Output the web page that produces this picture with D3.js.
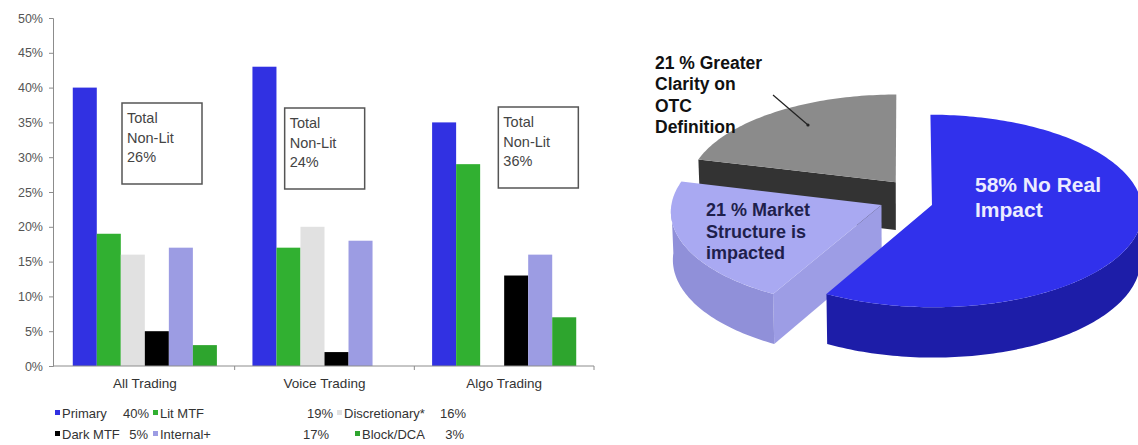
<!DOCTYPE html>
<html>
<head>
<meta charset="utf-8">
<script src="https://cdn.jsdelivr.net/npm/d3@7"></script>
<style>
  html, body { margin: 0; padding: 0; background: #fff; }
  svg { display: block; font-family: "Liberation Sans", Arial, sans-serif; }
</style>
</head>
<body>
<svg id="chart" width="1138" height="445"></svg>
<script>
// ---- data ----
const categories = ["All Trading", "Voice Trading", "Algo Trading"];
const seriesNames = ["Primary", "Lit MTF", "Discretionary*", "Dark MTF", "Internal+", "Block/DCA"];
const primary       = [40, 43, 35];
const litMTF        = [19, 17, 29];
const discretionary = [16, 20, 0];
const darkMTF       = [5, 2, 13];
const internalPlus  = [17, 18, 16];
const blockDCA      = [3, 0, 7];
const yTicks = [0, 5, 10, 15, 20, 25, 30, 35, 40, 45, 50];
const nonLitTotals = [26, 24, 36];

const pieValues = [58, 21, 21];
const pieLabels = [
  ["58% No Real", "Impact"],
  ["21 % Market", "Structure is", "impacted"],
  ["21 % Greater", "Clarity on", "OTC", "Definition"]
];

// ---- styling / layout ----
const seriesValues = [primary, litMTF, discretionary, darkMTF, internalPlus, blockDCA];
const seriesColors = ["#3131e2", "#31b031", "#e1e1e1", "#000000", "#9c9ce3", "#2ea52e"];

const svg = d3.select("#chart");
svg.append("rect").attr("width", 1138).attr("height", 445).attr("fill", "#fff");

const plot = { left: 53, right: 594, top: 18, bottom: 366 };

const x0 = d3.scaleBand().domain(categories).range([plot.left + 2, plot.right]).padding(0);
const x1 = d3.scaleBand().domain(seriesNames).range([0, x0.bandwidth()])
  .paddingInner(0).paddingOuter(0.74);
const y = d3.scaleLinear().domain([0, 50]).range([plot.bottom, plot.top]);

// bars
const barG = svg.append("g");
categories.forEach((cat, ci) => {
  const g = barG.append("g").attr("transform", `translate(${x0(cat)},0)`);
  g.selectAll("rect")
    .data(seriesNames.map((s, si) => ({ s, v: seriesValues[si][ci], c: seriesColors[si] })))
    .join("rect")
    .attr("x", d => x1(d.s))
    .attr("y", d => y(d.v))
    .attr("width", x1.bandwidth())
    .attr("height", d => y(0) - y(d.v))
    .attr("fill", d => d.c);
});

// y axis
const yAxis = d3.axisLeft(y).tickValues(yTicks).tickSize(4).tickPadding(6)
  .tickFormat(d => d + "%");
const yg = svg.append("g").attr("transform", `translate(${plot.left},0)`).call(yAxis);
yg.select(".domain").attr("stroke", "#8c8c8c");
yg.selectAll(".tick line").attr("stroke", "#8c8c8c");
yg.selectAll(".tick text").attr("fill", "#555").style("font-size", "12.5px")
  .style("font-family", '"Liberation Sans", Arial, sans-serif');

// x axis baseline with ticks at category boundaries
const xg = svg.append("g");
xg.append("line").attr("x1", plot.left).attr("x2", plot.right)
  .attr("y1", y(0)).attr("y2", y(0)).attr("stroke", "#8c8c8c");
xg.selectAll("line.tk").data(categories).join("line").attr("class", "tk")
  .attr("x1", d => x0(d) + x0.bandwidth()).attr("x2", d => x0(d) + x0.bandwidth())
  .attr("y1", y(0)).attr("y2", y(0) + 4).attr("stroke", "#8c8c8c");
xg.selectAll("text").data(categories).join("text")
  .attr("x", d => x0(d) + x0.bandwidth() / 2)
  .attr("y", y(0) + 22)
  .attr("text-anchor", "middle")
  .attr("fill", "#333")
  .style("font-size", "13.5px")
  .text(d => d);

// "Total Non-Lit" annotation boxes
const boxLayout = [{ dx: 67, y: 103 }, { dx: 50, y: 108 }, { dx: 84, y: 107 }];
const boxW = 80, boxH = 81;
categories.forEach((cat, i) => {
  const bx = x0(cat) + boxLayout[i].dx, by = boxLayout[i].y;
  const g = svg.append("g");
  g.append("rect").attr("x", bx).attr("y", by).attr("width", boxW).attr("height", boxH)
    .attr("fill", "#fff").attr("stroke", "#555").attr("stroke-width", 1.5);
  ["Total", "Non-Lit", nonLitTotals[i] + "%"].forEach((t, li) => {
    g.append("text").attr("x", bx + 5).attr("y", by + 20 + li * 19.5)
      .attr("fill", "#444").style("font-size", "14.5px").text(t);
  });
});

// legend (All Trading figures)
const legendPos = [
  { mx: 55, vx: 149, row: 0 }, { mx: 153, vx: 333, row: 0 }, { mx: 337, vx: 466, row: 0 },
  { mx: 55, vx: 148, row: 1 }, { mx: 153, vx: 329, row: 1 }, { mx: 355, vx: 464, row: 1 }
];
const legendRowY = [418, 439];
const lg = svg.append("g").style("font-size", "13px").attr("fill", "#333");
seriesNames.forEach((name, si) => {
  const p = legendPos[si], by = legendRowY[p.row];
  lg.append("rect").attr("x", p.mx).attr("y", by - 8).attr("width", 5).attr("height", 5)
    .attr("fill", seriesColors[si]);
  lg.append("text").attr("x", p.mx + 7).attr("y", by).text(name);
  lg.append("text").attr("x", p.vx).attr("y", by).attr("text-anchor", "end")
    .text(seriesValues[si][0] + "%");
});

// ---- 3D pie ----
const P = { cx: 905.7, cy: 250.8, R: 208, H: 54, sin: 0.47, F: 3000 };
P.cos = Math.sqrt(1 - P.sin * P.sin);
const sliceOffsets = [[26, -5], [-24, -5], [-10, 45]];
const sliceColors = [
  { top: "#3131ec", wall: "#1d1da8", cut: "#2424c4" },
  { top: "#a9a9f2", wall: "#9090d9", cut: "#9d9de5" },
  { top: "#8b8b8b", wall: "#5a5a5a", cut: "#333333" }
];

function proj(X, Y, Z) {
  const yp = Y * P.sin + Z * P.cos;
  const zp = Y * P.cos - Z * P.sin;
  const k = P.F / (P.F + zp);
  return [P.cx + X * k, P.cy - yp * k];
}
function arcPts(a0, a1, Z, o) {
  const n = Math.max(2, Math.ceil(Math.abs(a1 - a0) / 0.02));
  return d3.range(n + 1).map(i => {
    const a = a0 + (a1 - a0) * i / n;
    return proj(o[0] + P.R * Math.sin(a), o[1] + P.R * Math.cos(a), Z);
  });
}
const line = d3.line();
const closed = pts => line(pts) + "Z";

const arcs = d3.pie().sort(null).value(d => d)(pieValues);
const slices = arcs.map((a, i) => {
  const o = sliceOffsets[i];
  // the front-most point of a slice decides its painting order
  const front = Math.min(o[1], ...d3.range(0, 21).map(j => {
    const t = a.startAngle + (a.endAngle - a.startAngle) * j / 20;
    return o[1] + P.R * Math.cos(t);
  }));
  return { a, i, o, front };
}).sort((p, q) => q.front - p.front);

const pieG = svg.append("g");
slices.forEach(({ a, i, o }) => {
  const col = sliceColors[i];
  const g = pieG.append("g");
  const apexT = proj(o[0], o[1], P.H), apexB = proj(o[0], o[1], 0);
  const edge = (ang, Z) => proj(o[0] + P.R * Math.sin(ang), o[1] + P.R * Math.cos(ang), Z);

  // radial cut faces that face the viewer
  if (Math.cos(a.startAngle - Math.PI / 2) < -0.01) {
    g.append("path").attr("d", closed([apexT, edge(a.startAngle, P.H), edge(a.startAngle, 0), apexB]))
      .attr("fill", col.cut);
  }
  if (Math.cos(a.endAngle + Math.PI / 2) < -0.01) {
    g.append("path").attr("d", closed([apexT, edge(a.endAngle, P.H), edge(a.endAngle, 0), apexB]))
      .attr("fill", col.cut);
  }
  // outer wall on the front half
  const b0 = Math.max(a.startAngle, Math.PI / 2), b1 = Math.min(a.endAngle, 3 * Math.PI / 2);
  if (b1 > b0) {
    g.append("path").attr("d", closed([...arcPts(b0, b1, P.H, o), ...arcPts(b1, b0, 0, o)]))
      .attr("fill", col.wall);
  }
  // top face
  g.append("path").attr("d", closed([apexT, ...arcPts(a.startAngle, a.endAngle, P.H, o)]))
    .attr("fill", col.top);
});

// pie labels
const pieLabelLayout = [
  { x: 975, y: 192, size: 21, lh: 25, fill: "#ececff" },
  { x: 706, y: 216, size: 18, lh: 21.5, fill: "#1f1f4c" },
  { x: 655, y: 69, size: 17.5, lh: 21.3, fill: "#111" }
];
// leader from the outside label to the slice
svg.append("line").attr("x1", 773).attr("y1", 95).attr("x2", 808).attr("y2", 125)
  .attr("stroke", "#222").attr("stroke-width", 1.2);
svg.append("circle").attr("cx", 808).attr("cy", 125).attr("r", 1.6).attr("fill", "#222");

pieLabels.forEach((lines, i) => {
  const L = pieLabelLayout[i];
  const t = svg.append("text").attr("fill", L.fill).style("font-weight", "bold")
    .style("font-size", L.size + "px");
  lines.forEach((s, li) => t.append("tspan").attr("x", L.x).attr("y", L.y + li * L.lh).text(s));
});
</script>
</body>
</html>
